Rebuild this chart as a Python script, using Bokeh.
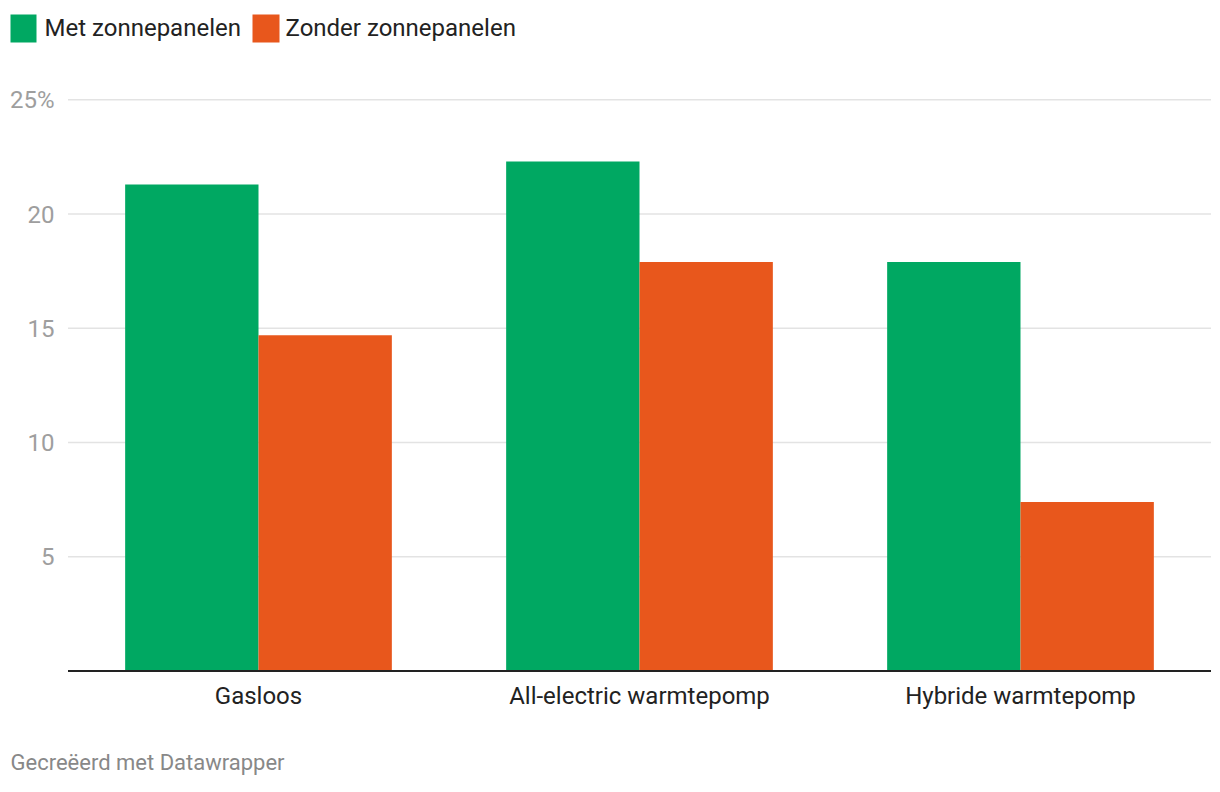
from bokeh.plotting import figure
from bokeh.models import Range1d, Label, BoxAnnotation, ColumnDataSource
from bokeh.core.properties import value
from bokeh.embed import file_html
from bokeh.resources import INLINE

categories = ["Gasloos", "All-electric warmtepomp", "Hybride warmtepomp"]
met = [21.3, 22.3, 17.9]
zonder = [14.7, 17.9, 7.4]
series_names = ["Met zonnepanelen", "Zonder zonnepanelen"]
y_ticks = [5, 10, 15, 20, 25]
y_tick_labels = ["5", "10", "15", "20", "25%"]
footer_text = "Gecreëerd met Datawrapper"

GREEN = "#00a862"
ORANGE = "#e8571c"
FONT = "Roboto"

W, H = 1212, 776
# plot area in canvas pixels: categories span 67.5..1210.5, baseline at 670.5
CAT_PX = 381.0          # pixels per category
Y_PX = 22.846           # pixels per percentage point
x_start = -67.5 / CAT_PX
x_end = 3 + (W - 1210.5) / CAT_PX
y_end = 670.5 / Y_PX
y_start = -(H - 670.5) / Y_PX

xpos = [i + 0.5 for i in range(len(categories))]
bar_w = 0.35
src = ColumnDataSource(dict(
    cat=categories, xc=xpos,
    x_met=[x - bar_w / 2 for x in xpos], x_zon=[x + bar_w / 2 for x in xpos],
    met=met, zonder=zonder))

p = figure(width=W, height=H, x_range=Range1d(x_start, x_end), y_range=Range1d(y_start, y_end),
           output_backend="svg", toolbar_location=None,
           x_axis_location=None, y_axis_location=None,
           min_border=0, min_border_left=0, min_border_right=0,
           min_border_top=0, min_border_bottom=0)
p.outline_line_color = None
p.background_fill_color = "white"
p.border_fill_color = "white"
p.xgrid.visible = False
p.ygrid.visible = False

# grid lines
grid_src = ColumnDataSource(dict(y=y_ticks, lab=y_tick_labels,
                                 x0=[0] * len(y_ticks), x1=[len(categories)] * len(y_ticks),
                                 xl=[x_start] * len(y_ticks)))
p.segment(x0="x0", x1="x1", y0="y", y1="y", source=grid_src, line_color="#e3e3e3", line_width=1.5)

# bars
p.vbar(x="x_met", top="met", width=bar_w, source=src, fill_color=GREEN, line_color=None)
p.vbar(x="x_zon", top="zonder", width=bar_w, source=src, fill_color=ORANGE, line_color=None)

# baseline
p.segment(x0=[0], x1=[len(categories)], y0=[0], y1=[0], line_color="#222222", line_width=2)

# y tick labels
p.text(x="xl", y="y", text="lab", source=grid_src, x_offset=54, text_align="right",
       text_baseline="middle", text_font=value(FONT), text_font_size="24px", text_color="#9e9e9e")

# x category labels
p.text(x="xc", y=0, text="cat", source=src, y_offset=24.5, text_align="center",
       text_baseline="middle", text_font=value(FONT), text_font_size="24px", text_color="#222222")

# legend (screen units, origin bottom-left of canvas)
for (l, r), name, col, tx in [((10, 36), series_names[0], GREEN, 44),
                              ((252, 279), series_names[1], ORANGE, 285)]:
    p.add_layout(BoxAnnotation(left=l, right=r, bottom=H - 42, top=H - 14,
                               left_units="screen", right_units="screen",
                               bottom_units="screen", top_units="screen",
                               fill_color=col, fill_alpha=1, line_color=None))
    p.add_layout(Label(x=tx, y=H - 27.5, x_units="screen", y_units="screen", text=name,
                       text_font=FONT, text_font_size="24px", text_color="#222222",
                       text_baseline="middle"))

# footer
p.add_layout(Label(x=10, y=H - 761.5, x_units="screen", y_units="screen", text=footer_text,
                   text_font=FONT, text_font_size="22px", text_color="#888888",
                   text_baseline="middle"))

open("out.html", "w").write(file_html(p, INLINE))
